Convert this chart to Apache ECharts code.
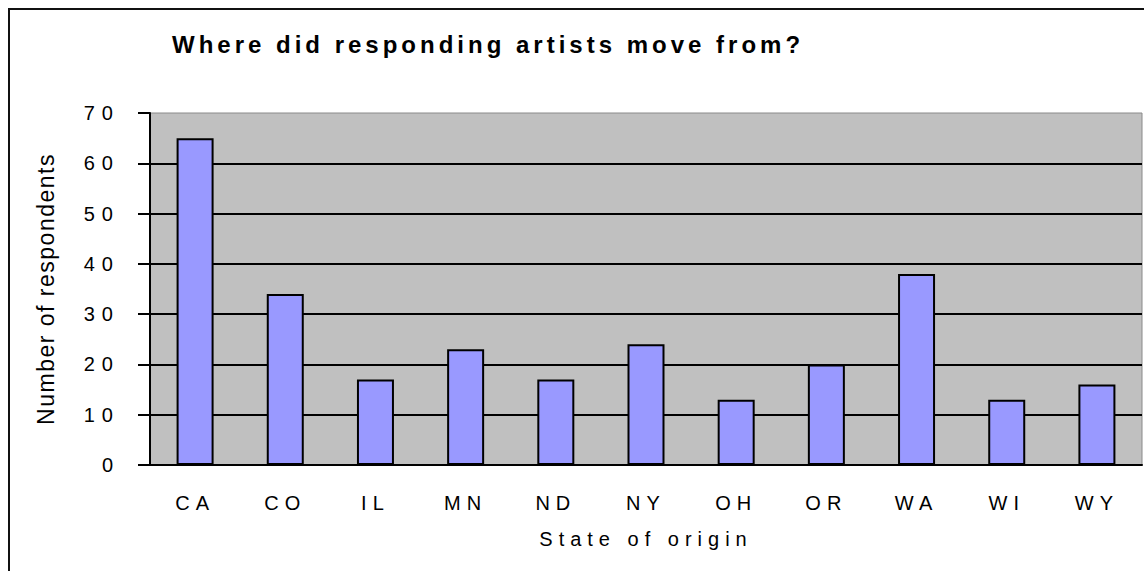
<!DOCTYPE html>
<html>
<head>
<meta charset="utf-8">
<title>Where did responding artists move from?</title>
<script src="https://cdn.jsdelivr.net/npm/echarts@6/dist/echarts.min.js"></script>
<style>
  html, body { margin: 0; padding: 0; background: #fff; }
  #main { width: 1144px; height: 571px; }
</style>
</head>
<body>
<div id="main"></div>
<script>
// data
var categories = ['CA', 'CO', 'IL', 'MN', 'ND', 'NY', 'OH', 'OR', 'WA', 'WI', 'WY'];
var respondents = [65, 34, 17, 23, 17, 24, 13, 20, 38, 13, 16];
var titleText = 'Where did responding artists move from?';
var xName = 'State of origin';
var yName = 'Number of respondents';

var font = "'Liberation Sans', Arial, sans-serif";

var myChart = echarts.init(document.getElementById('main'), null, { renderer: 'svg' });

var option = {
  animation: false,
  backgroundColor: '#fff',
  title: {
    text: titleText,
    left: 167,
    top: 27,
    textStyle: { fontFamily: font, fontSize: 24, fontWeight: 'bold', color: '#000' }
  },
  // outer frame, only left + top edges are inside the picture
  graphic: [{
    type: 'rect',
    silent: true,
    shape: { x: 9, y: 9, width: 1400, height: 900 },
    style: { fill: 'none', stroke: '#111', lineWidth: 2 }
  }],
  grid: {
    left: 150,
    right: 2,
    top: 113,
    bottom: 106,
    show: true,
    backgroundColor: '#C0C0C0',
    borderColor: '#8a8a8a',
    borderWidth: 1,
    outerBoundsMode: 'none'
  },
  xAxis: {
    type: 'category',
    data: categories,
    name: xName,
    nameLocation: 'middle',
    nameGap: 64,
    nameTextStyle: { fontFamily: font, fontSize: 20, color: '#000' },
    axisLine: { lineStyle: { color: '#000', width: 2 } },
    axisTick: { length: 9, lineStyle: { color: '#000', width: 2 } },
    axisLabel: { interval: 0, margin: 28, fontFamily: font, fontSize: 20, color: '#000' }
  },
  yAxis: {
    type: 'value',
    min: 0,
    max: 70,
    interval: 10,
    name: yName,
    nameLocation: 'middle',
    nameGap: 93,
    nameTextStyle: { fontFamily: font, fontSize: 23, color: '#000' },
    axisLine: { show: true, lineStyle: { color: '#000', width: 2 } },
    axisTick: { show: true, length: 12, lineStyle: { color: '#000', width: 2 } },
    axisLabel: { margin: 30, fontFamily: font, fontSize: 20, color: '#000' },
    splitLine: { show: true, showMaxLine: false, lineStyle: { color: '#000', width: 2 } }
  },
  series: [{
    name: yName,
    type: 'bar',
    data: respondents,
    barWidth: 37,
    itemStyle: { color: '#9999FF', borderColor: '#000', borderWidth: 2 }
  }]
};

myChart.setOption(option);

// the original chart has widely spaced letters
function spaceLetters() {
  var texts = document.querySelectorAll('#main text');
  for (var i = 0; i < texts.length; i++) {
    var t = texts[i];
    var s = t.textContent;
    var ls = '6px';
    if (s === titleText) ls = '4px';
    else if (s === yName) ls = '1.5px';
    else if (/^\d+$/.test(s)) ls = '7px';
    t.style.letterSpacing = ls;
  }
}
spaceLetters();
myChart.on('finished', spaceLetters);
</script>
</body>
</html>
